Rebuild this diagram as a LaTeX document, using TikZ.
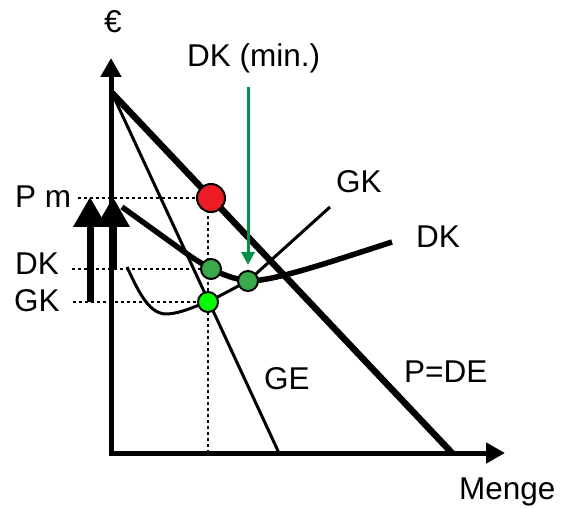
\documentclass[tikz,border=0pt]{standalone}
\usepackage{fontspec}
\setmainfont{Liberation Sans}
\usetikzlibrary{arrows.meta}
\definecolor{ptred}{RGB}{237,28,36}
\definecolor{ptdkgreen}{RGB}{57,170,73}
\definecolor{ptltgreen}{RGB}{0,255,0}
\definecolor{ptarrow}{RGB}{0,146,69}
\begin{document}
\begin{tikzpicture}[x=1pt,y=-1pt,
  font=\fontsize{31.5}{38}\selectfont,
  axisline/.style={line width=5pt,line join=miter,
    {Triangle[length=19pt,width=20pt]}-{Triangle[length=19pt,width=20pt]}},
  demandline/.style={line width=6.5pt},
  dkline/.style={line width=5.5pt,line join=round},
  thinline/.style={line width=3pt,line join=round},
  guide/.style={line width=2.5pt,dash pattern=on 3pt off 3pt},
  bigarrow/.style={line width=7pt,-{Triangle[length=30pt,width=32pt]}},
  pointer/.style={ptarrow,line width=3pt,-{Triangle[length=13pt,width=13pt]}},
  dotnode/.style={circle,draw=black,line width=2pt,inner sep=0pt,minimum size=#1},
  lbl/.style={anchor=base west,inner sep=0pt}]
\useasboundingbox (0,0) rectangle (566,508);

% coordinates
\coordinate (ytip) at (111,58);
\coordinate (O) at (111,453);
\coordinate (xtip) at (505,453);
\coordinate (A) at (112,93);
\coordinate (Qde) at (452,453);
\coordinate (Qge) at (279,453);
\coordinate (vb) at (208,453);

% labels
\node[lbl] (euro) at (104,33) {€};
\node[lbl] (dkmin) at (187,67) {DK (min.)};
\node[lbl] (pm) at (15,208) {P m};
\node[lbl] (dkl) at (15,275) {DK};
\node[lbl] (gkl) at (14,312) {GK};
\node[lbl] (gkr) at (336,193) {GK};
\node[lbl] (dkr) at (416,248) {DK};
\node[lbl] (ge) at (264,390) {GE};
\node[lbl] (pde) at (404,382) {P=DE};
\node[lbl] (menge) at (459,500) {Menge};

% points (placed first for naming, drawn later on top)
\coordinate (redc) at (211,198);
\coordinate (dk1c) at (211,269);
\coordinate (dk2c) at (248,281);
\coordinate (lgc) at (208,302);

% guides
\coordinate (g1) at (78,198);
\coordinate (g2) at (72,269);
\coordinate (g3) at (73,302);
\draw[guide] (g1) -- (redc);
\draw[guide] (g2) -- (dk1c);
\draw[guide] (g3) -- (lgc);
\draw[guide] (vb |- redc) -- (vb);

% axes
\draw[axisline] (ytip) -- (O) -- (xtip);

% demand and marginal revenue
\draw[demandline] (A) -- (Qde);
\draw[thinline] (A) -- (Qge);

% DK curve
\coordinate (dks) at (122,207);
\coordinate (dke) at (392,242);
\draw[dkline] (dks) -- (190,256) .. controls (205,266) and (225,278) .. (dk2c)
  .. controls (275,281) and (330,262) .. (dke);

% GK curve
\coordinate (gks) at (127,267);
\coordinate (gke) at (330,207);
\draw[thinline] (gks) .. controls (140,295) and (150,315) .. (168,314)
  .. controls (182,313) and (195,306) .. (lgc) -- (dk2c) -- (gke);

% big arrows
\coordinate (b1s) at (90,302);
\coordinate (b1e) at (90,197);
\coordinate (b2s) at (113,269);
\coordinate (b2e) at (113,197);
\draw[bigarrow] (b1s) -- (b1e);
\draw[bigarrow] (b2s) -- (b2e);

% pointer
\coordinate (ps) at (248,87);
\coordinate (pe) at (248,265);
\draw[pointer] (ps) -- (pe);

% points
\node[dotnode=28pt,fill=ptred] (red) at (redc) {};
\node[dotnode=20pt,fill=ptdkgreen] (dk1) at (dk1c) {};
\node[dotnode=20pt,fill=ptdkgreen] (dk2) at (dk2c) {};
\node[dotnode=20pt,fill=ptltgreen] (lg) at (lgc) {};
\end{tikzpicture}
\end{document}
